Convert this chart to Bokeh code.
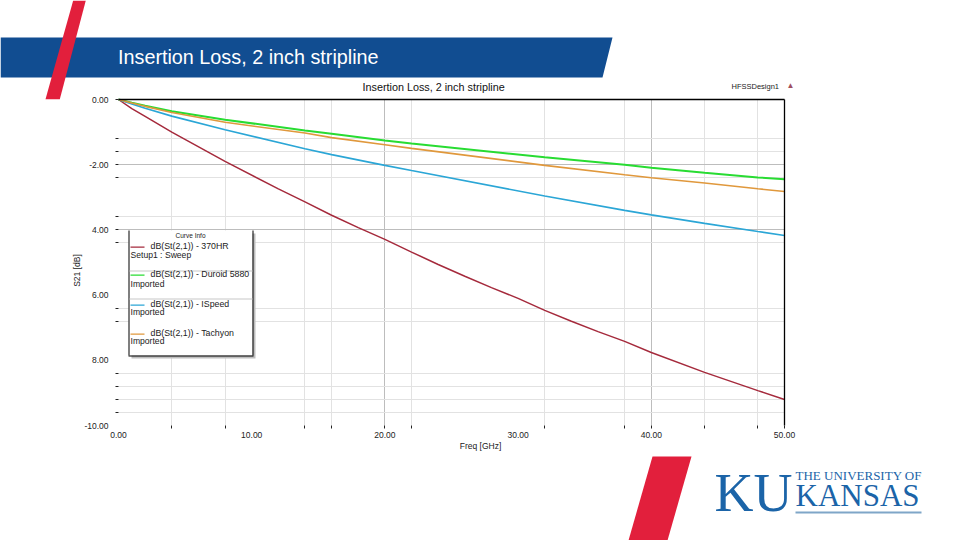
from bokeh.embed import file_html
from bokeh.resources import INLINE
from bokeh.plotting import figure
from bokeh.models import (Range1d, FixedTicker, Grid, Label, PolyAnnotation, LinearAxis)

# ---- data
freq_370hr = [0, 1, 2, 4, 8, 12, 14, 16, 18, 20, 22, 24, 26, 28, 30, 32, 34, 36, 38, 40, 44, 48, 50]
s21_370hr = [0, -0.28, -0.52, -1.00, -1.90, -2.74, -3.14, -3.55, -3.93, -4.29, -4.68, -5.06, -5.42, -5.77, -6.10,
             -6.47, -6.80, -7.12, -7.42, -7.76, -8.37, -8.93, -9.20]
freq_imported = [0, 1, 2, 4, 8, 14, 16, 20, 22, 32, 38, 40, 44, 48, 50]
s21_duroid = [0, -0.10, -0.19, -0.36, -0.62, -0.95, -1.05, -1.26, -1.35, -1.77, -2.00, -2.09, -2.25, -2.39, -2.45]
s21_ispeed = [0, -0.14, -0.27, -0.51, -0.93, -1.51, -1.69, -2.02, -2.18, -2.96, -3.40, -3.54, -3.80, -4.05, -4.17]
s21_tachyon = [0, -0.11, -0.21, -0.40, -0.70, -1.03, -1.17, -1.39, -1.50, -2.02, -2.31, -2.40, -2.56, -2.74, -2.82]

x_labelled = [0, 10, 20, 30, 40, 50]
x_tick_labels = ["0.00", "10.00", "20.00", "30.00", "40.00", "50.00"]
x_marked = [4, 8, 14, 16, 20, 22, 32, 38, 40, 44, 48, 50]
x_dark = [20, 40]
x_light = [4, 8, 14, 16, 22, 32, 38, 44, 48]

y_labelled = [0, -2, -4, -6, -8, -10]
y_tick_labels = ["0.00", "-2.00", "4.00", "6.00", "8.00", "-10.00"]
y_marked = [0, -1.2, -1.6, -2, -2.4, -3.6, -4, -4.4, -6.4, -6.8, -8.4, -8.8, -9.2, -9.6]
y_dark = [-2, -4]
y_light = [-1.2, -1.6, -2.4, -3.6, -4.4, -6.4, -6.8, -8.4, -8.8, -9.2, -9.6]

names = ["dB(St(2,1)) - 370HR", "dB(St(2,1)) - Duroid 5880", "dB(St(2,1)) - ISpeed", "dB(St(2,1)) - Tachyon"]
sources = ["Setup1 : Sweep", "Imported", "Imported", "Imported"]
colors = ["#A52A3C", "#28DC32", "#2BA6D6", "#E0983C"]

W, H = 960, 540
FONT = "Liberation Sans"
SERIF = "Liberation Serif"
BLUE = "#114D91"
RED = "#E21F3C"
KU = "#1B64A8"

# The frame fills the page; the plot box sits at x 118-784, y 99-425 of it.
x_scale = (784 - 118) / 50
y_scale = (425 - 99) / 10
p = figure(width=W, height=H, output_backend="svg", toolbar_location=None,
           x_range=Range1d(-118 / x_scale, (W - 118) / x_scale),
           y_range=Range1d(-(H - 99) / y_scale, 99 / y_scale),
           x_axis_location=None, y_axis_location=None,
           min_border=0)
p.outline_line_color = None
p.background_fill_color = "white"
p.grid.visible = False

x_axis = LinearAxis(fixed_location=-10, axis_label="Freq [GHz]")
y_axis = LinearAxis(fixed_location=0, axis_label="S21 [dB]")
for ax, labelled, labels, marked in ((x_axis, x_labelled, x_tick_labels, x_marked),
                                     (y_axis, y_labelled, y_tick_labels, y_marked)):
    ax.ticker = FixedTicker(ticks=labelled, minor_ticks=marked)
    ax.major_label_overrides = dict(zip(labelled, labels))
    ax.axis_line_color = None
    ax.major_tick_line_color = None
    ax.major_tick_out = 0
    ax.major_tick_in = 0
    ax.minor_tick_line_color = "#222222"
    ax.minor_tick_out = 3
    ax.minor_tick_in = 0
    ax.major_label_text_font = FONT
    ax.major_label_text_font_size = "8.5px"
    ax.major_label_text_color = "#222222"
    ax.axis_label_text_font = FONT
    ax.axis_label_text_font_size = "8.5px"
    ax.axis_label_text_font_style = "normal"
    ax.axis_label_text_color = "#222222"
x_axis.major_label_standoff = 3
x_axis.axis_label_standoff = 0
y_axis.major_label_standoff = 7
y_axis.axis_label_standoff = -1
y_axis.major_label_orientation = "horizontal"
p.add_layout(x_axis, "below")
p.add_layout(y_axis, "left")

# black top and right edges of the plot box
top_edge = LinearAxis(fixed_location=0, bounds=(0, 50), ticker=FixedTicker(ticks=[]),
                      major_tick_line_color=None, minor_tick_line_color=None, major_label_text_color=None,
                      axis_line_color="black", axis_line_width=1.3)
right_edge = LinearAxis(fixed_location=50, bounds=(-10, 0), ticker=FixedTicker(ticks=[]),
                        major_tick_line_color=None, minor_tick_line_color=None, major_label_text_color=None,
                        axis_line_color="black", axis_line_width=1.3)
p.add_layout(top_edge, "above")
p.add_layout(right_edge, "right")

for ticks, col in ((x_light, "#E2E2E2"), (x_dark, "#BDBDBD")):
    p.add_layout(Grid(dimension=0, ticker=FixedTicker(ticks=ticks), grid_line_color=col, cross_bounds=(-10, 0), level="underlay"))
for ticks, col in ((y_light, "#E2E2E2"), (y_dark, "#BDBDBD")):
    p.add_layout(Grid(dimension=1, ticker=FixedTicker(ticks=ticks), grid_line_color=col, cross_bounds=(0, 50), level="underlay"))

p.line(freq_370hr, s21_370hr, line_color=colors[0], line_width=1.5)
p.line(freq_imported, s21_duroid, line_color=colors[1], line_width=2)
p.line(freq_imported, s21_ispeed, line_color=colors[2], line_width=1.6)
p.line(freq_imported, s21_tachyon, line_color=colors[3], line_width=1.6)


# ---- page decoration, given in page pixels of the 960x540 picture
def py(y):
    return H - y


def poly(pts, color):
    p.add_layout(PolyAnnotation(xs=[a for a, b in pts], ys=[py(b) for a, b in pts], xs_units="screen", ys_units="screen",
                                fill_color=color, fill_alpha=1, line_color=None, level="overlay"))


def rect(x0, y0, x1, y1, color):
    poly([(x0, y0), (x1, y0), (x1, y1), (x0, y1)], color)


def text(x, y, s, size, color="#222222", font=FONT, style="normal", align="left"):
    p.add_layout(Label(x=x, y=py(y), x_units="screen", y_units="screen", text=s, text_font=font,
                       text_font_size=f"{size}px", text_font_style=style, text_color=color, text_align=align,
                       text_baseline="middle", level="overlay"))


poly([(0, 37), (612, 37), (602, 77), (0, 77)], BLUE)
poly([(72.7, 0), (85.3, 0), (59.3, 98.7), (45, 98.7)], RED)
poly([(652, 456), (691, 456), (667, 540), (628, 540)], RED)
text(117.5, 56, "Insertion Loss, 2 inch stripline", 19.8, "white")
text(362, 86, "Insertion Loss, 2 inch stripline", 10.8, "#111111")

text(731, 86, "HFSSDesign1", 7.5, "#222222")
text(790, 85, "▲", 8, "#A0505F", align="center")

# curve info box
rect(131, 233, 255, 358, "#BEBEBE")
rect(128, 230, 252, 355, "white")
rect(128, 230, 129, 355, "black")
rect(252, 230, 253, 355, "black")
rect(128, 355, 253, 356, "black")
rect(129, 270, 252, 271, "#C8C8C8")
rect(129, 298, 252, 299, "#C8C8C8")
text(190, 235, "Curve Info", 6.5, align="center")
swatch_y = [246, 274, 304, 333]
first_y = [245, 273, 303, 332]
second_y = [254, 283, 311, 340]
for name, src, col, sy, y1, y2 in zip(names, sources, colors, swatch_y, first_y, second_y):
    rect(130, sy, 144, sy + 1.2, col)
    text(150, y1, name, 8.8)
    text(130, y2, src, 8.6)

# logo
text(714, 492, "KU", 54, KU, SERIF)
text(795, 475, "THE UNIVERSITY OF", 13, KU, SERIF)
text(795, 495, "KANSAS", 31, KU, SERIF)
rect(795, 511, 921, 513, "#7FA6C8")

open("out.html", "w").write(file_html(p, INLINE))
